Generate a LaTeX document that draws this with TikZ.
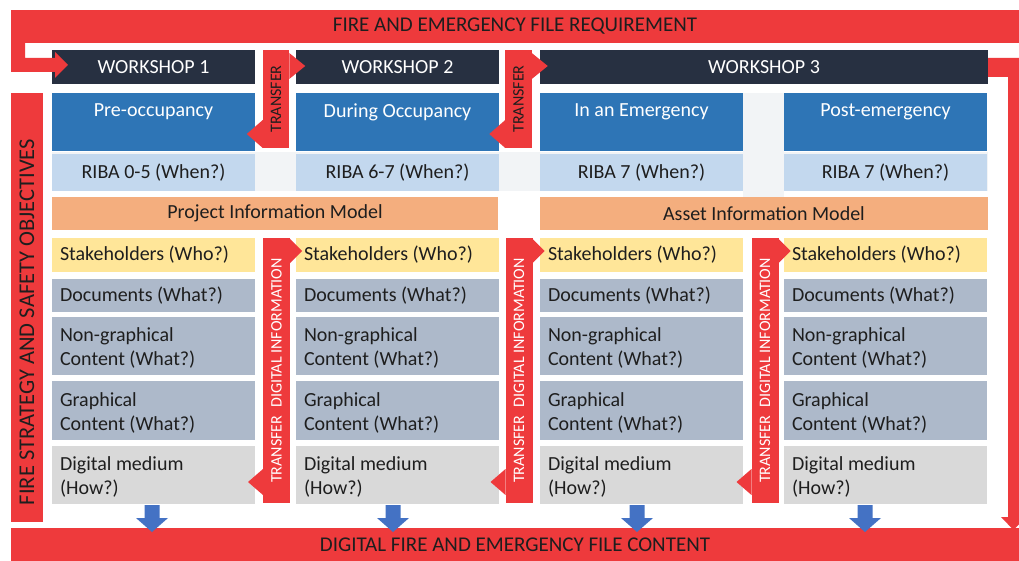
\documentclass[tikz,border=0pt]{standalone}
\usepackage{fontspec}
\usetikzlibrary{calc}
\setmainfont{Carlito}
\definecolor{cred}{HTML}{EE3A3C}
\definecolor{cnavy}{HTML}{273041}
\definecolor{cblue}{HTML}{2E75B6}
\definecolor{criba}{HTML}{C3D8EE}
\definecolor{corange}{HTML}{F4AE7E}
\definecolor{cyellow}{HTML}{FFE699}
\definecolor{cgrayblue}{HTML}{ADB9CA}
\definecolor{cgray}{HTML}{D9D9D9}
\definecolor{cgap}{HTML}{F2F4F6}
\definecolor{carrow}{HTML}{4472C4}
\definecolor{ctext}{HTML}{1E1E1E}
\begin{document}
\begin{tikzpicture}[x=1pt,y=-1pt,
  every node/.style={inner sep=0pt,outer sep=0pt,text=ctext,
    font=\fontsize{20}{24}\selectfont},
  cell/.style={anchor=north west,minimum width=203pt},
  rowtext/.style={anchor=west,align=left},
  wtext/.style={text=white},
  redbar/.style={fill=cred,rotate=90},
  bandtext/.style={font=\fontsize{21}{25}\selectfont},
  bartext/.style={font=\fontsize{16}{19}\selectfont},
  arrowhead/.style={fill=cred}
]
\useasboundingbox (0,0) rectangle (1019,561);
\fill[white] (0,0) rectangle (1019,561);

% top and bottom bands
\node[fill=cred,anchor=north west,minimum width=1008pt,minimum height=33pt,bandtext] (top) at (11,10)
  {FIRE AND EMERGENCY FILE REQUIREMENT};
\node[fill=cred,anchor=north west,minimum width=1008pt,minimum height=33pt,bandtext] (bottom) at (11,528)
  {DIGITAL FIRE AND EMERGENCY FILE CONTENT};

% left band and its caption
\node[redbar,minimum width=429pt,minimum height=32pt] (left) at (27,307.5) {};
\node[rotate=90,font=\fontsize{22.5}{26}\selectfont] (lefttext) at (27,322)
  {FIRE STRATEGY AND SAFETY OBJECTIVES};

% light gaps behind the phase rows
\fill[cgap] (52,152) rectangle (988,191);
\fill[cgap] (743,93) rectangle (784,197);

% workshops
\node[cell,fill=cnavy,minimum height=34pt,wtext] (w1) at (52,50) {WORKSHOP 1};
\node[cell,fill=cnavy,minimum height=34pt,wtext] (w2) at (296,50) {WORKSHOP 2};
\node[cell,fill=cnavy,minimum height=34pt,minimum width=448pt,wtext] (w3) at (540,50) {WORKSHOP 3};

% column cells
\foreach \i/\x/\ph/\rb in {1/52/Pre-occupancy/RIBA 0-5 (When?),
                            2/296/During Occupancy/RIBA 6-7 (When?),
                            3/540/In an Emergency/RIBA 7 (When?),
                            4/784/Post-emergency/RIBA 7 (When?)}{
  \node[cell,fill=cblue,minimum height=58pt] (p\i) at (\x,93) {};
  \node[wtext] (pt\i) at ([yshift=-19pt]p\i.north) {\ph};
  \node[cell,fill=criba,minimum height=37pt] (r\i) at (\x,154) {\rb};
  \node[cell,fill=cyellow,minimum height=34pt] (s\i) at (\x,238) {};
  \node[rowtext] (st\i) at ([xshift=8pt]s\i.west) {Stakeholders (Who?)};
  \node[cell,fill=cgrayblue,minimum height=33pt] (d\i) at (\x,279) {};
  \node[rowtext] (dt\i) at ([xshift=8pt]d\i.west) {Documents (What?)};
  \node[cell,fill=cgrayblue,minimum height=58pt] (n\i) at (\x,317) {};
  \node[rowtext] (nt\i) at ([xshift=8pt,yshift=-2pt]n\i.west) {Non-graphical\\Content (What?)};
  \node[cell,fill=cgrayblue,minimum height=59pt] (g\i) at (\x,381) {};
  \node[rowtext] (gt\i) at ([xshift=8pt,yshift=-2pt]g\i.west) {Graphical\\Content (What?)};
  \node[cell,fill=cgray,minimum height=58pt] (m\i) at (\x,446) {};
  \node[rowtext] (mt\i) at ([xshift=8pt,yshift=-2pt]m\i.west) {Digital medium\\(How?)};
}

% information models
\node[anchor=north west,fill=corange,minimum width=446pt,minimum height=33pt] (pim) at (52,197)
  {Project Information Model};
\node[anchor=north west,fill=corange,minimum width=448pt,minimum height=33pt] (aim) at (540,197)
  {Asset Information Model};

% transfers between workshops (rotated bars: south east = upper right, north west = lower left)
\foreach \k/\cx in {1/276,2/518.5}{
  \node[redbar,minimum width=98pt,minimum height=26.5pt,bartext] (t\k) at (\cx,99) {TRANSFER};
  \fill[arrowhead] ($(t\k.south east)+(0,3)$) -- ++(16,13) -- ++(-16,13) -- cycle;
  \fill[arrowhead] ($(t\k.north west)+(0,-28)$) -- ++(-16,14) -- ++(16,14) -- cycle;
}

% transfers of digital information
\foreach \k/\cx in {1/276.5,2/519,3/765}{
  \node[redbar,minimum width=265pt,minimum height=27pt,bartext,text=white] (td\k) at (\cx,370.5)
    {TRANSFER\enspace DIGITAL INFORMATION};
  \fill[arrowhead] ($(td\k.south east)+(0,1)$) -- ++(12,12) -- ++(-12,12) -- cycle;
  \fill[arrowhead] ($(td\k.north west)+(0,-34)$) -- ++(-15,13) -- ++(15,13) -- cycle;
}

% entry from the requirement band into workshop 1
\fill[cred] (11,43) -- (25,43) -- (25,58) -- (55,58) -- (55,52) -- (68,65)
  -- (55,78) -- (55,72) -- (11,72) -- cycle;

% return path from workshop 3 down to the content band
\fill[cred] (w3.east |- 0,58) -- (1019,58) -- (1019,517) -- (1026,517) -- (1013.5,530)
  -- (1001,517) -- (1008,517) -- (1008,77) -- (w3.east |- 0,77) -- cycle;

% outputs of each phase
\foreach \c in {152,393,637,865}{
  \fill[carrow] (\c-7.5,505) -- (\c+7.5,505) -- (\c+7.5,518) -- (\c+16,518) -- (\c,532)
    -- (\c-16,518) -- (\c-7.5,518) -- cycle;
}
\end{tikzpicture}
\end{document}
